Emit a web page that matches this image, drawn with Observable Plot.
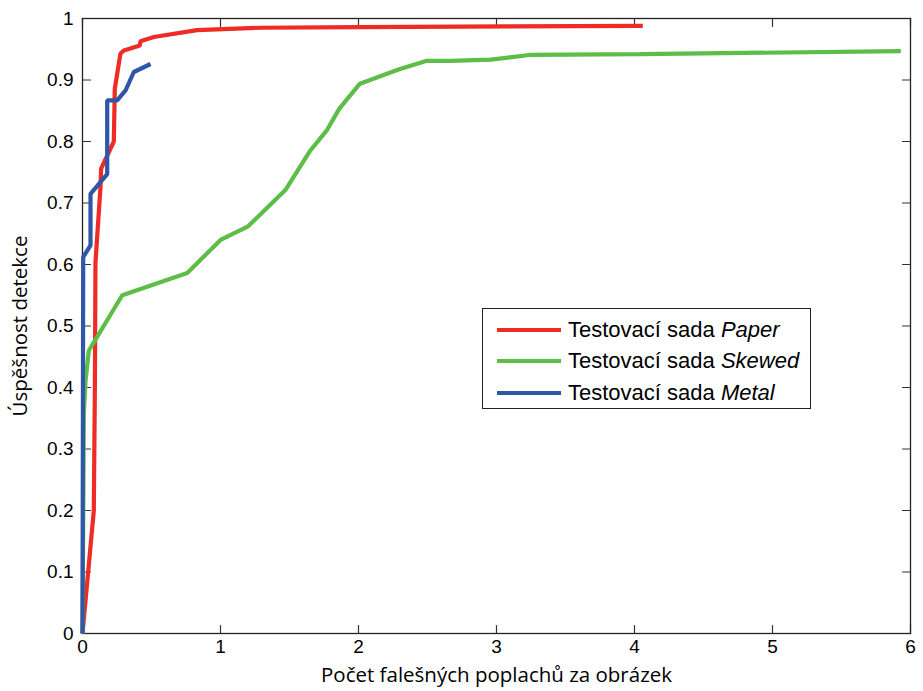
<!DOCTYPE html>
<html>
<head>
<meta charset="utf-8">
<script src="https://cdn.jsdelivr.net/npm/d3@7"></script>
<script src="https://cdn.jsdelivr.net/npm/@observablehq/plot@0.6"></script>
<style>
  html, body { margin: 0; padding: 0; background: #fff; }
  #wrap { position: relative; width: 923px; height: 691px; }
  #legend {
    position: absolute; left: 482px; top: 308px; width: 329px; height: 101px;
    box-sizing: border-box; border: 1.5px solid #222; background: #fff;
    font-family: "Liberation Sans", Arial, sans-serif; font-size: 22px; color: #000;
    padding-top: 5px;
  }
  #legend .row { display: flex; align-items: center; height: 31.5px; }
  #legend .sw { width: 64px; height: 4px; margin-left: 14px; margin-right: 7px; }
</style>
</head>
<body>
<div id="wrap"><div id="legend"></div></div>
<script>
// ---- data ----
const seriesNames = ["Paper", "Skewed", "Metal"];
const seriesColors = ["#ee2b25", "#5cbd47", "#2f56a8"];

const paperX = [0, 0.082, 0.09, 0.094, 0.13, 0.135, 0.227, 0.234, 0.275, 0.30, 0.415, 0.42, 0.517, 0.83, 1.29, 2.0, 4.06];
const paperY = [0, 0.2, 0.41, 0.603, 0.725, 0.756, 0.80, 0.886, 0.943, 0.948, 0.956, 0.963, 0.97, 0.981, 0.985, 0.986, 0.988];

const skewedX = [0, 0.01, 0.022, 0.046, 0.288, 0.759, 1.0, 1.2, 1.47, 1.56, 1.65, 1.77, 1.86, 2.01, 2.30, 2.49, 2.67, 2.96, 3.25, 4.04, 5.93];
const skewedY = [0, 0.36, 0.411, 0.46, 0.55, 0.586, 0.64, 0.662, 0.721, 0.753, 0.785, 0.818, 0.853, 0.894, 0.918, 0.931, 0.931, 0.933, 0.941, 0.942, 0.947];

const metalX = [0, 0.005, 0.058, 0.058, 0.179, 0.179, 0.251, 0.312, 0.372, 0.493];
const metalY = [0, 0.612, 0.631, 0.715, 0.747, 0.867, 0.867, 0.883, 0.913, 0.926];

const xTicks = [0, 1, 2, 3, 4, 5, 6];
const xTickLabels = ["0", "1", "2", "3", "4", "5", "6"];
const yTicks = [0, 0.1, 0.2, 0.3, 0.4, 0.5, 0.6, 0.7, 0.8, 0.9, 1];
const yTickLabels = ["0", "0.1", "0.2", "0.3", "0.4", "0.5", "0.6", "0.7", "0.8", "0.9", "1"];

const xTitle = "Počet falešných poplachů za obrázek";
const yTitle = "Úspěšnost detekce";
const legendPrefix = "Testovací sada ";

// ---- build ----
const toRows = (xs, ys, name) => xs.map((x, i) => ({x, y: ys[i], name}));
const rows = [
  ...toRows(paperX, paperY, "Paper"),
  ...toRows(skewedX, skewedY, "Skewed"),
  ...toRows(metalX, metalY, "Metal")
];

const tickShape = {
  draw(context, l) { context.moveTo(0, 0); context.lineTo(0, -l); }
};
const tickLen = 8;
const tickStyle = {shape: tickShape, length: tickLen, anchor: "start", stroke: "#333", strokeWidth: 1.2};

const chart = Plot.plot({
  width: 923,
  height: 691,
  marginLeft: 82,
  marginRight: 13,
  marginTop: 18,
  marginBottom: 58,
  style: {background: "#fff", fontFamily: "Liberation Sans, Arial, sans-serif"},
  x: {domain: [0, 6]},
  y: {domain: [0, 1]},
  color: {domain: seriesNames, range: seriesColors},
  marks: [
    Plot.axisX(xTicks, {tickSize: 0, tickPadding: 6, label: null, tickFormat: (d, i) => xTickLabels[i], fontSize: 19, fill: "#000"}),
    Plot.axisY(yTicks, {tickSize: 0, tickPadding: 9, label: null, tickFormat: (d, i) => yTickLabels[i], fontSize: 19, fill: "#000"}),
    // inward ticks on all four sides
    Plot.vector(xTicks, {x: d => d, frameAnchor: "bottom", rotate: 0, ...tickStyle}),
    Plot.vector(xTicks, {x: d => d, frameAnchor: "top", rotate: 180, ...tickStyle}),
    Plot.vector(yTicks, {y: d => d, frameAnchor: "left", rotate: 90, ...tickStyle}),
    Plot.vector(yTicks, {y: d => d, frameAnchor: "right", rotate: -90, ...tickStyle}),
    Plot.frame({stroke: "#222", strokeWidth: 1.3}),
    Plot.line(rows, {x: "x", y: "y", z: "name", stroke: "name", strokeWidth: 4.2, strokeLinejoin: "miter", strokeLinecap: "butt"}),
    Plot.text([xTitle], {text: d => d, frameAnchor: "bottom", dy: 48, fontSize: 20.5, fill: "#000", fontFamily: "Open Sans, sans-serif"}),
    Plot.text([yTitle], {text: d => d, frameAnchor: "left", textAnchor: "middle", dx: -62, rotate: -90, fontSize: 20.5, fill: "#000", fontFamily: "Open Sans, sans-serif"})
  ]
});
document.getElementById("wrap").prepend(chart);
chart.style.position = "absolute";
chart.style.left = "0";
chart.style.top = "0";

// HTML legend
const legend = document.getElementById("legend");
seriesNames.forEach((n, i) => {
  const row = document.createElement("div");
  row.className = "row";
  const sw = document.createElement("div");
  sw.className = "sw";
  sw.style.background = seriesColors[i];
  const label = document.createElement("span");
  label.append(legendPrefix);
  const it = document.createElement("i");
  it.textContent = n;
  label.append(it);
  row.append(sw, label);
  legend.append(row);
});
</script>
</body>
</html>
